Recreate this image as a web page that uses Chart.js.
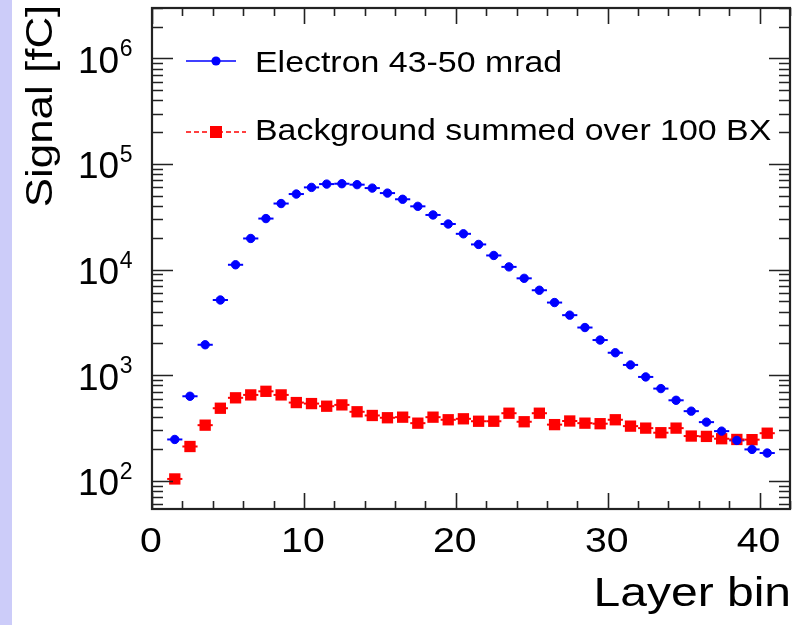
<!DOCTYPE html>
<html><head><meta charset="utf-8">
<script src="https://cdn.jsdelivr.net/npm/chart.js@4.4.1/dist/chart.umd.min.js"></script>
<style>
html,body{margin:0;padding:0;background:#fff;}
#wrap{position:relative;width:802px;height:625px;}
canvas{display:block;}
</style></head><body>
<div id="wrap"><canvas id="c" width="802" height="625"></canvas></div>
<script>
// ---- data ----
const layerBins = [1.5,2.5,3.5,4.5,5.5,6.5,7.5,8.5,9.5,10.5,11.5,12.5,13.5,14.5,15.5,16.5,17.5,18.5,19.5,20.5,
                   21.5,22.5,23.5,24.5,25.5,26.5,27.5,28.5,29.5,30.5,31.5,32.5,33.5,34.5,35.5,36.5,37.5,38.5,39.5,40.5];
const electronSignal = [246,631,1940,5150,11100,19700,30400,42200,51900,60000,64500,65000,63700,59100,53000,46300,39700,32900,27000,21800,
                        17300,13600,10600,8260,6370,4870,3700,2825,2150,1630,1250,962,746,578,456,359,295,241,198,183];
const backgroundSignal = [104,211,336,486,610,650,703,650,550,538,508,523,450,415,395,400,351,400,378,386,
                          366,366,436,362,436,340,368,351,347,378,329,315,285,315,265,263,250,246,245,282];
const binHalfWidth = 0.5;
const seriesNames = ['Electron 43-50 mrad', 'Background summed over 100 BX'];
const xTickLabels = [0, 10, 20, 30, 40];
const yTickExponents = [2, 3, 4, 5, 6];
const xTitle = 'Layer bin';
const yTitle = 'Signal [fC]';

const BLUE = '#0000ff', RED = '#ff0000', INK = '#000000', FRAME = '#222222';
const FONT = '"Liberation Sans", Arial, Helvetica, sans-serif';

function pts(ys){ return layerBins.map((x,i)=>({x:x, y:ys[i]})); }

function stretchedText(ctx, text, x, y, sx, align, font){
  ctx.save();
  ctx.font = font;
  ctx.translate(x, y);
  ctx.scale(sx, 1);
  ctx.textAlign = align;
  ctx.textBaseline = 'alphabetic';
  ctx.fillText(text, 0, 0);
  ctx.restore();
}

const errorBars = {
  id: 'errorBars',
  beforeDatasetsDraw(chart){
    const ctx = chart.ctx, xs = chart.scales.x, ys = chart.scales.y;
    ctx.save();
    ctx.lineWidth = 2;
    chart.data.datasets.forEach(ds=>{
      ctx.strokeStyle = ds.borderColor;
      ds.data.forEach(p=>{
        const y = ys.getPixelForValue(p.y);
        ctx.beginPath();
        ctx.moveTo(xs.getPixelForValue(p.x - binHalfWidth), y);
        ctx.lineTo(xs.getPixelForValue(p.x + binHalfWidth), y);
        ctx.stroke();
      });
    });
    ctx.restore();
  }
};

const frameAxes = {
  id: 'frameAxes',
  beforeDraw(chart){
    const ctx = chart.ctx;
    ctx.save();
    ctx.fillStyle = '#ccccf9';
    ctx.fillRect(0, 0, 12, chart.height);
    ctx.restore();
  },
  afterDraw(chart){
    const ctx = chart.ctx, a = chart.chartArea, xs = chart.scales.x, ys = chart.scales.y;
    ctx.save();
    // ticks
    ctx.strokeStyle = FRAME;
    ctx.lineWidth = 1.6;
    ctx.beginPath();
    for (let v = xs.min; v <= xs.max + 1e-9; v += 2){
      const px = Math.round(xs.getPixelForValue(v)) + 0.5;
      const len = (v % 10 === 0) ? 16 : 8;
      ctx.moveTo(px, a.bottom); ctx.lineTo(px, a.bottom - len);
      ctx.moveTo(px, a.top); ctx.lineTo(px, a.top + len);
    }
    for (let e = 1; e <= 6; e++){
      for (let m = 1; m <= 9; m++){
        const v = m * Math.pow(10, e);
        if (v < ys.min || v > ys.max) continue;
        const py = Math.round(ys.getPixelForValue(v)) + 0.5;
        const len = (m === 1) ? 21 : 11;
        ctx.moveTo(a.left, py); ctx.lineTo(a.left + len, py);
        ctx.moveTo(a.right, py); ctx.lineTo(a.right - len, py);
      }
    }
    ctx.stroke();
    // frame
    ctx.lineWidth = 2.2;
    ctx.strokeRect(a.left, a.top, a.right - a.left, a.bottom - a.top);

    // tick labels
    ctx.fillStyle = INK;
    xTickLabels.forEach(v=>{
      stretchedText(ctx, String(v), xs.getPixelForValue(v) - 1, 552, 1.12, 'center', '35px ' + FONT);
    });
    yTickExponents.forEach(e=>{
      const py = ys.getPixelForValue(Math.pow(10, e));
      ctx.font = '37px ' + FONT;
      ctx.textAlign = 'left';
      ctx.textBaseline = 'alphabetic';
      ctx.fillText('10', 78, py + 14.5);
      const w = ctx.measureText('10').width;
      ctx.font = '23px ' + FONT;
      ctx.fillText(String(e), 78 + w + 0.5, py - 2);
    });

    // axis titles
    stretchedText(ctx, xTitle, 791, 606, 1.2, 'right', '40px ' + FONT);
    ctx.save();
    ctx.translate(52, 106);
    ctx.rotate(-Math.PI / 2);
    ctx.scale(1.22, 1);
    ctx.font = '36px ' + FONT;
    ctx.textAlign = 'center';
    ctx.textBaseline = 'alphabetic';
    ctx.fillText(yTitle, 0, 0);
    ctx.restore();

    // legend
    ctx.lineWidth = 1.6;
    ctx.strokeStyle = BLUE;
    ctx.beginPath(); ctx.moveTo(186, 61); ctx.lineTo(236, 61); ctx.stroke();
    ctx.fillStyle = BLUE;
    ctx.beginPath(); ctx.arc(216, 61, 4.6, 0, Math.PI * 2); ctx.fill();
    ctx.strokeStyle = RED;
    ctx.setLineDash([5, 3]);
    ctx.beginPath(); ctx.moveTo(186, 132); ctx.lineTo(246, 132); ctx.stroke();
    ctx.setLineDash([]);
    ctx.fillStyle = RED;
    ctx.fillRect(210, 126, 12, 12);
    ctx.fillStyle = INK;
    stretchedText(ctx, seriesNames[0], 255, 72, 1.13, 'left', '30px ' + FONT);
    stretchedText(ctx, seriesNames[1], 255, 139.5, 1.13, 'left', '30px ' + FONT);
    ctx.restore();
  }
};

new Chart(document.getElementById('c'), {
  type: 'scatter',
  data: {
    datasets: [
      { label: seriesNames[0], data: pts(electronSignal), showLine: false,
        pointStyle: 'circle', pointRadius: 4.2, pointBorderWidth: 1,
        backgroundColor: BLUE, borderColor: BLUE },
      { label: seriesNames[1], data: pts(backgroundSignal), showLine: false,
        pointStyle: 'rect', pointRadius: 8, pointBorderWidth: 0,
        backgroundColor: RED, borderColor: RED }
    ]
  },
  options: {
    responsive: false,
    animation: false,
    devicePixelRatio: 1,
    layout: { padding: { left: 152, right: 12, top: 7, bottom: 116 } },
    plugins: { legend: { display: false }, tooltip: { enabled: false } },
    scales: {
      x: { type: 'linear', min: 0, max: 42, display: false },
      y: { type: 'logarithmic', min: 54, max: 3.0e6, display: false }
    }
  },
  plugins: [errorBars, frameAxes]
});
</script>
</body></html>
